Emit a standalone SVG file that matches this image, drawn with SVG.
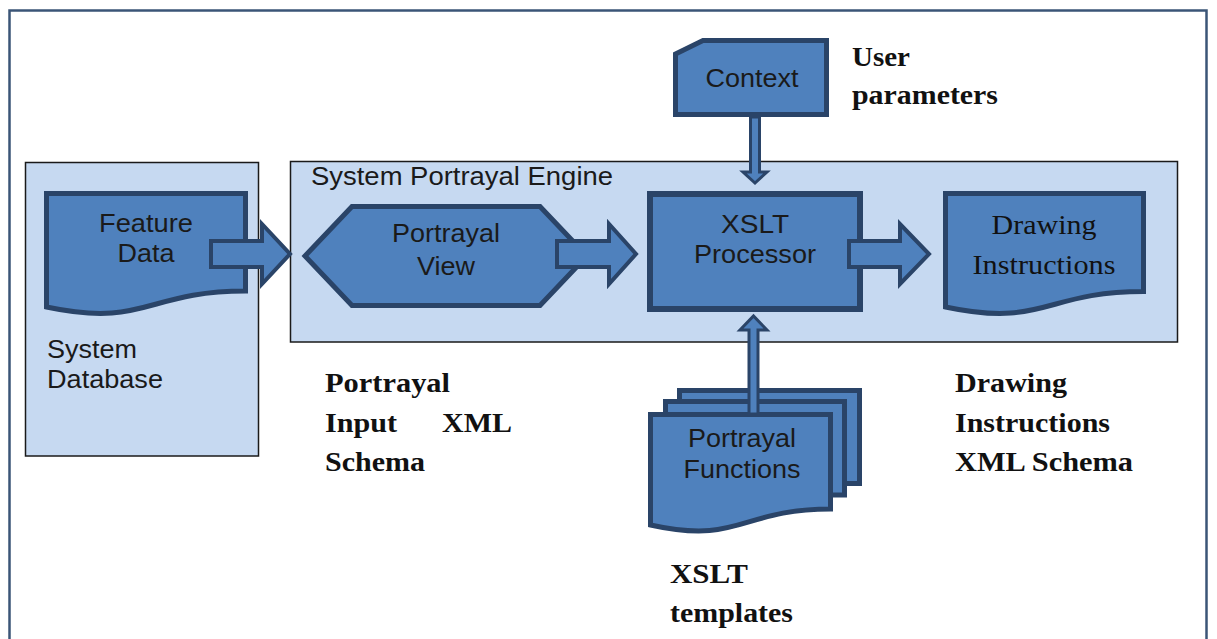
<svg xmlns="http://www.w3.org/2000/svg" width="1217" height="639" viewBox="0 0 1217 639">
<style>
.frame{fill:#fff;stroke:#3b5577;stroke-width:2.5}
.box{fill:#c6d9f1;stroke:#1a1a1a;stroke-width:1.5}
.node{fill:#4f81bd;stroke:#2a4468;stroke-width:5;stroke-linejoin:miter}
.arr{fill:#4f81bd;stroke:#2a4468;stroke-width:4;stroke-linejoin:miter}
.thin{fill:#4f81bd;stroke:#2a4468;stroke-width:3;stroke-linejoin:miter}
.sans{font-family:"Liberation Sans",Arial,sans-serif;font-size:25px;fill:#1a1a1a}
.ser{font-family:"Liberation Serif","Times New Roman",serif;font-size:27px;fill:#111}
.lbl{font-family:"Liberation Serif","Times New Roman",serif;font-size:27px;font-weight:bold;fill:#111}
.c{text-anchor:middle}
</style>
<rect class="frame" x="9.5" y="10.5" width="1197" height="700"/>

<g id="system-database">
<rect class="box" x="25.5" y="162.5" width="233" height="293.5"/>
<text class="sans" x="47" y="358" textLength="90" lengthAdjust="spacingAndGlyphs">System</text>
<text class="sans" x="47" y="388" textLength="116" lengthAdjust="spacingAndGlyphs">Database</text>
</g>

<g id="system-portrayal-engine">
<rect class="box" x="290.5" y="161.5" width="887" height="180.5"/>
<text class="sans" x="311" y="185" textLength="302" lengthAdjust="spacingAndGlyphs">System Portrayal Engine</text>
</g>

<g id="feature-data">
<path class="node" d="M46.5,193.5 H245.5 V291 C146,291 146,328 46.5,307 Z"/>
<text class="sans c" x="146" y="232" textLength="94" lengthAdjust="spacingAndGlyphs">Feature</text>
<text class="sans c" x="146" y="262" textLength="57" lengthAdjust="spacingAndGlyphs">Data</text>
</g>

<g id="portrayal-view">
<polygon class="node" points="305,256 352,206.5 540,206.5 587,256 540,305.5 352,305.5"/>
<text class="sans c" x="446" y="242" textLength="108" lengthAdjust="spacingAndGlyphs">Portrayal</text>
<text class="sans c" x="446" y="275" textLength="58" lengthAdjust="spacingAndGlyphs">View</text>
</g>

<g id="xslt-processor">
<rect class="node" x="650" y="194" width="210" height="115" style="stroke-width:6"/>
<text class="sans c" x="755" y="233" textLength="68" lengthAdjust="spacingAndGlyphs">XSLT</text>
<text class="sans c" x="755" y="263" textLength="122" lengthAdjust="spacingAndGlyphs">Processor</text>
</g>

<g id="drawing-instructions">
<path class="node" d="M945.5,193.5 H1143.5 V291.5 C1044.5,291.5 1044.5,328 945.5,307 Z"/>
<text class="ser c" x="1044" y="234" textLength="105" lengthAdjust="spacingAndGlyphs">Drawing</text>
<text class="ser c" x="1044" y="274" textLength="143" lengthAdjust="spacingAndGlyphs">Instructions</text>
</g>

<g id="context">
<polygon class="node" points="675.5,54 703,40.5 826.5,40.5 826.5,114.5 675.5,114.5"/>
<text class="sans c" x="752" y="87" textLength="93" lengthAdjust="spacingAndGlyphs">Context</text>
</g>

<g id="portrayal-functions">
<rect class="node" x="679.5" y="390.5" width="180" height="93"/>
<rect class="node" x="665.5" y="401.5" width="179" height="93.5"/>
<path class="node" d="M650.5,414.5 H830.5 V509 C740.5,509 740.5,545 650.5,525 Z"/>
<text class="sans c" x="742" y="447" textLength="108" lengthAdjust="spacingAndGlyphs">Portrayal</text>
<text class="sans c" x="742" y="478" textLength="117" lengthAdjust="spacingAndGlyphs">Functions</text>
</g>

<g id="connectors">
<polygon class="arr" points="211,241 262,241 262,224 290,254 262,284 262,267 211,267"/>
<polygon class="arr" points="557,241 609,241 609,224 636,254 609,284 609,267 557,267"/>
<polygon class="arr" points="849,241 900,241 900,224 929,254 900,284 900,267 849,267"/>
<polygon class="thin" points="750.5,117 759.5,117 759.5,172 767,172 755,183 743,172 750.5,172"/>
<polygon class="thin" points="749,414 758,414 758,330 767,330 753.5,316 740,330 749,330"/>
</g>

<g id="labels">
<text class="lbl" x="852" y="66" textLength="58" lengthAdjust="spacingAndGlyphs">User</text>
<text class="lbl" x="852" y="104" textLength="146" lengthAdjust="spacingAndGlyphs">parameters</text>
<text class="lbl" x="325" y="392" textLength="125" lengthAdjust="spacingAndGlyphs">Portrayal</text>
<text class="lbl" x="325" y="432" textLength="72" lengthAdjust="spacingAndGlyphs">Input</text>
<text class="lbl" x="442" y="432" textLength="70" lengthAdjust="spacingAndGlyphs">XML</text>
<text class="lbl" x="325" y="471" textLength="100" lengthAdjust="spacingAndGlyphs">Schema</text>
<text class="lbl" x="955" y="392" textLength="112" lengthAdjust="spacingAndGlyphs">Drawing</text>
<text class="lbl" x="955" y="432" textLength="155" lengthAdjust="spacingAndGlyphs">Instructions</text>
<text class="lbl" x="955" y="471" textLength="178" lengthAdjust="spacingAndGlyphs">XML Schema</text>
<text class="lbl" x="670" y="583" textLength="78" lengthAdjust="spacingAndGlyphs">XSLT</text>
<text class="lbl" x="670" y="622" textLength="123" lengthAdjust="spacingAndGlyphs">templates</text>
</g>
</svg>
